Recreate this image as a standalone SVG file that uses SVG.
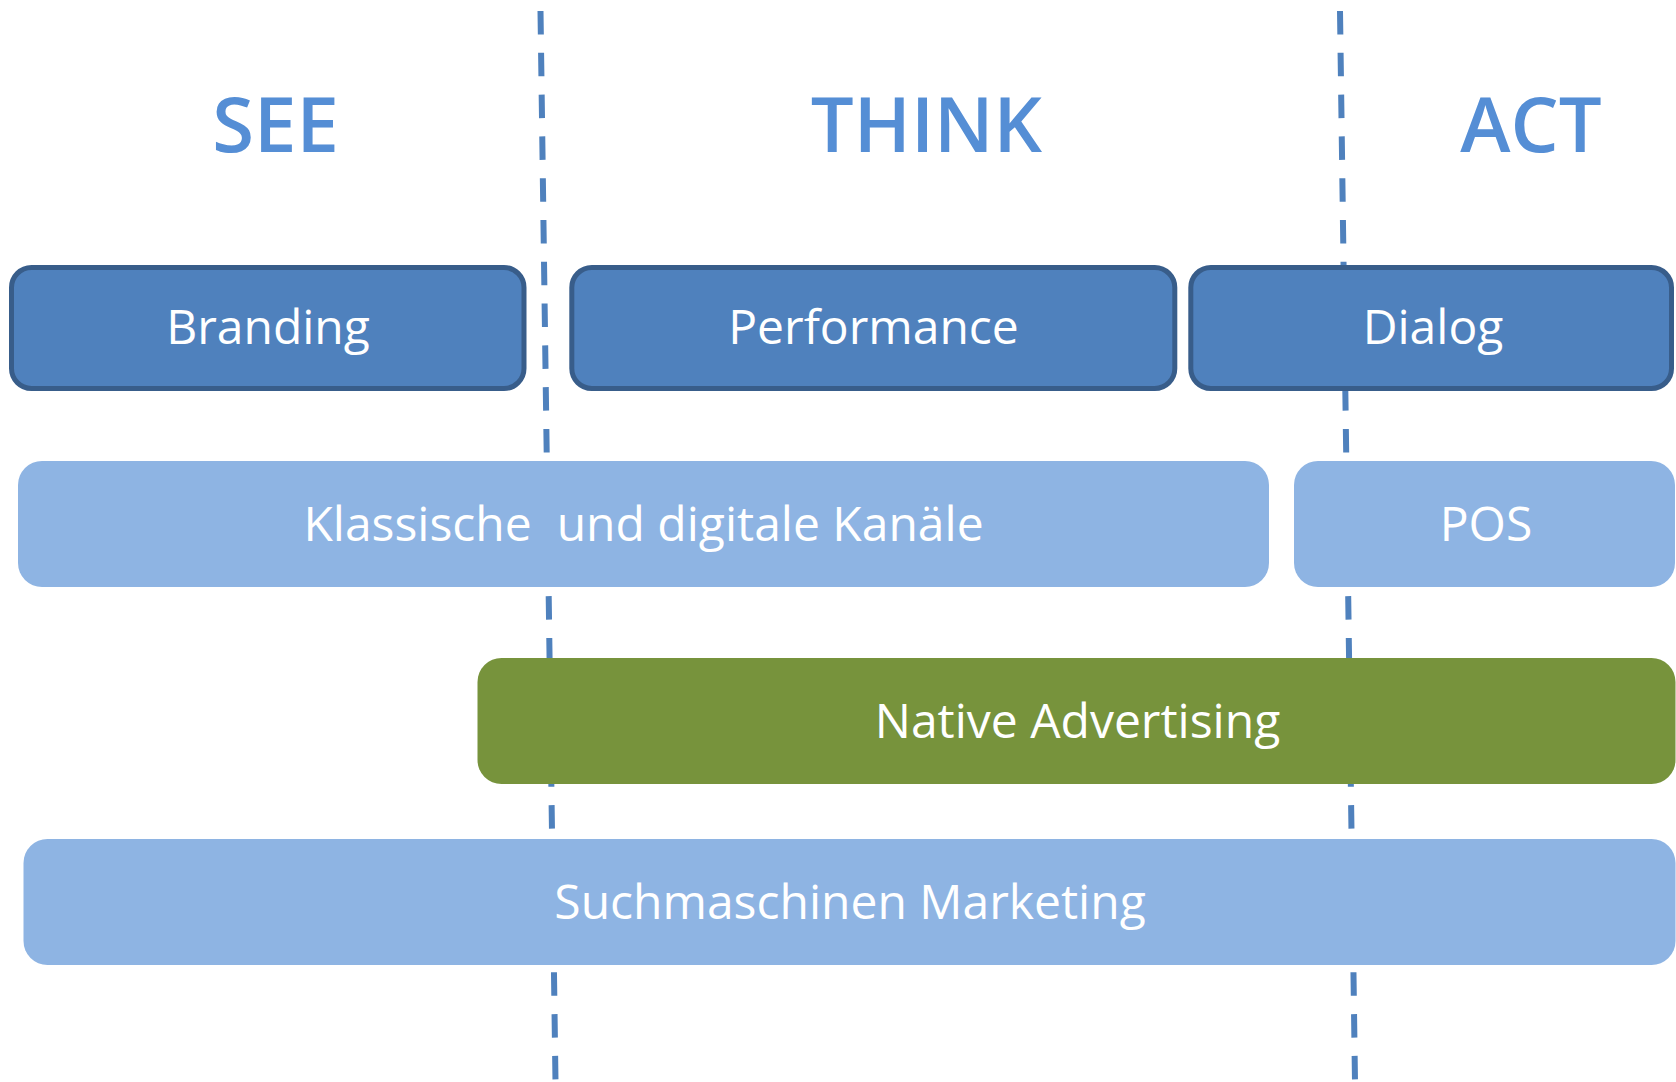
<svg xmlns="http://www.w3.org/2000/svg" width="1676" height="1082" viewBox="0 0 1676 1082">
  <style>
    .title { font-family: "Open Sans", "Liberation Sans", sans-serif; font-weight: 600; font-size: 76px; fill: #558ED5; text-anchor: middle; }
    .label { font-family: "Open Sans", "Liberation Sans", sans-serif; font-size: 48px; fill: #FFFFFF; text-anchor: middle; white-space: pre; }
    .phase { fill: #4F81BD; stroke: #385D8A; stroke-width: 5; }
    .channel { fill: #8EB4E3; }
    .native { fill: #77933C; }
    .divider { stroke: #4F81BD; stroke-width: 6; stroke-dasharray: 23.5 18.3; fill: none; }
  </style>

  <rect width="1676" height="1082" fill="#FFFFFF"/>

  <!-- phase dividers -->
  <g id="connectors">
    <line class="divider" x1="540.5" y1="11" x2="555.5" y2="1082"/>
    <line class="divider" x1="1340" y1="11" x2="1355" y2="1082"/>
  </g>

  <!-- phase headings -->
  <g id="headings">
    <text class="title" x="275.5" y="152">SEE</text>
    <text class="title" x="926.5" y="152">THINK</text>
    <text class="title" x="1531" y="152">ACT</text>
  </g>

  <g id="branding">
    <rect class="phase" x="11.5" y="267.5" width="512.5" height="121" rx="20"/>
    <text class="label" x="268" y="344">Branding</text>
  </g>

  <g id="performance">
    <rect class="phase" x="571.8" y="267.5" width="603" height="121" rx="20"/>
    <text class="label" x="873.5" y="344">Performance</text>
  </g>

  <g id="dialog">
    <rect class="phase" x="1190.8" y="267.5" width="480.7" height="121" rx="20"/>
    <text class="label" x="1433" y="344">Dialog</text>
  </g>

  <g id="kanaele">
    <rect class="channel" x="18" y="461" width="1251" height="126" rx="24"/>
    <text class="label" x="643.5" y="541" xml:space="preserve">Klassische  und digitale Kanäle</text>
  </g>

  <g id="pos">
    <rect class="channel" x="1294" y="461" width="381" height="126" rx="24"/>
    <text class="label" x="1486" y="541">POS</text>
  </g>

  <g id="native-advertising">
    <rect class="native" x="477.5" y="658" width="1198" height="126" rx="24"/>
    <text class="label" x="1077.5" y="738">Native Advertising</text>
  </g>

  <g id="suchmaschinen-marketing">
    <rect class="channel" x="23.5" y="839" width="1652" height="126" rx="24"/>
    <text class="label" x="850" y="919">Suchmaschinen Marketing</text>
  </g>
</svg>
